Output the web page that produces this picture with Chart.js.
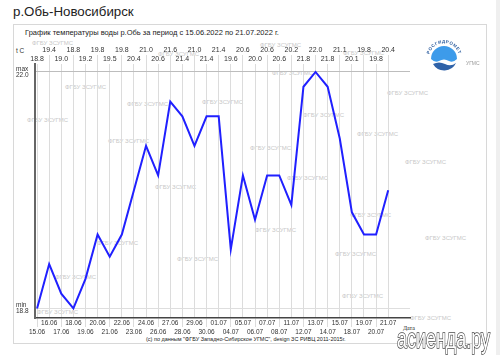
<!DOCTYPE html>
<html><head><meta charset="utf-8">
<script src="https://cdn.jsdelivr.net/npm/chart.js@4"></script>
<style>
html,body{margin:0;padding:0;width:500px;height:355px;overflow:hidden;background:#fff;font-family:"Liberation Sans",Arial,sans-serif;}
#title{position:absolute;left:13px;top:3px;font-size:13.3px;color:#222;line-height:18px;white-space:nowrap;}
#box{position:absolute;left:13px;top:24px;width:474px;height:320px;border:1px solid #d8d8d8;box-sizing:border-box;}
#edge{position:absolute;left:496px;top:0;width:4px;height:355px;background:#efefef;}
#caption{position:absolute;left:25px;top:28px;font-size:7.5px;line-height:10px;color:#222;white-space:nowrap;}
#tc{position:absolute;left:16px;top:46px;font-size:6.5px;line-height:9px;color:#333;}
#footer{position:absolute;left:146px;top:336px;font-size:5.5px;line-height:7px;color:#222;white-space:nowrap;}
#data{position:absolute;left:403px;top:325px;font-size:6px;line-height:7px;color:#222;font-family:"Liberation Serif",serif;}
.wm{position:absolute;font-size:6px;line-height:7px;color:#c8c8c8;white-space:nowrap;z-index:1;}
#c{position:absolute;left:0;top:0;z-index:2;}
#logo{position:absolute;left:420px;top:34px;z-index:3;}
#asi{position:absolute;left:390px;top:318px;z-index:5;}
</style></head>
<body>
<div id="title">р.Обь-Новосибирск</div>
<div id="box"></div>
<div id="edge"></div>
<div id="caption">График температуры воды р.Обь за период с 15.06.2022 по 21.07.2022 г.</div>
<div id="tc">t C</div>
<div id="footer">(c) по данным "ФГБУ Западно-Сибирское УГМС", design ЗС РИВЦ 2011-2015г.</div>
<div id="data">Дата</div>
<div id="wms"></div>
<canvas id="c" width="500" height="355"></canvas>
<svg id="logo" width="64" height="42" viewBox="0 0 64 42">
 <defs><path id="arc" d="M9,24 A15,15 0 0 1 39,24"/></defs>
 <text font-size="4.4" font-weight="bold" fill="#2b5c9e" letter-spacing="0.5" font-family="Liberation Sans, Arial"><textPath href="#arc" startOffset="50%" text-anchor="middle">РОСГИДРОМЕТ</textPath></text>
 <path d="M11,25 A13,13 0 0 1 37,25 Q33,29 29,27 Q24,24 19,27 Q15,29 11,25Z" fill="#3d9bea"/>
 <path d="M13,30 Q19,27 25,30 Q31,33 36,29 A13,13 0 0 1 13,30Z" fill="#2f62a8"/>
 <text x="46" y="31" font-size="5" fill="#9a9a9a" font-family="Liberation Sans, Arial">УГМС</text>
</svg>
<svg id="asi" width="110" height="37">
 <text x="7" y="30" font-size="27" font-family="Liberation Sans, Arial" textLength="93" lengthAdjust="spacingAndGlyphs" fill="#fff" stroke="#4a4a4a" stroke-width="1.6" paint-order="stroke">асиенда.ру</text>
</svg>
<script>
const dates = ['15.06','16.06','17.06','18.06','19.06','20.06','21.06','22.06','23.06','24.06','26.06','27.06','28.06','29.06','30.06','01.07','04.07','05.07','06.07','07.07','08.07','11.07','12.07','13.07','14.07','15.07','18.07','19.07','20.07','21.07'];
const temps = [18.8,19.4,19.0,18.8,19.2,19.8,19.5,19.8,20.4,21.0,20.6,21.6,21.4,21.0,21.4,21.4,19.6,20.6,20.0,20.6,20.6,20.2,21.8,22.0,21.8,21.1,20.1,19.8,19.8,20.4];
const yTicks = [18.8, 22.0];
const yTickNames = ['min', 'max'];
const wmText = 'ФГБУ ЗСУГМС';
const wmSpots = [[32,40],[158,51],[260,42],[343,50],[65,84],[27,117],[127,101],[272,70],[202,99],[108,138],[155,184],[250,145],[255,227],[97,240],[177,256],[287,175],[55,274],[37,309],[303,112],[387,90],[357,131],[405,159],[350,212],[425,235],[335,251],[342,293],[410,315]];

const wmBox = document.getElementById('wms');
wmSpots.forEach(p => { const d = document.createElement('div'); d.className = 'wm'; d.style.left = p[0] + 'px'; d.style.top = p[1] + 'px'; d.textContent = wmText; wmBox.appendChild(d); });

const FAM = '"Liberation Sans", Arial, sans-serif';
const points = temps.map((t, i) => ({x: i, y: t}));
const setIdxTicks = s => { s.ticks = dates.map((d, i) => ({value: i})); };
const XMIN = -0.17, XMAX = 30.8;

new Chart(document.getElementById('c'), {
  type: 'line',
  data: { datasets: [{ data: points, borderColor: '#2020ff', borderWidth: 2, pointRadius: 0, tension: 0, fill: false, xAxisID: 'x', yAxisID: 'y' }] },
  options: {
    responsive: false, animation: false, events: [],
    layout: { padding: { left: 16, right: 90, top: 0, bottom: 0 } },
    plugins: { legend: { display: false }, tooltip: { enabled: false } },
    scales: {
      x: {
        type: 'linear', position: 'bottom', min: XMIN, max: XMAX,
        afterBuildTicks: setIdxTicks, afterFit: s => { s.height = 37; },
        grid: { color: '#dcdcdc', lineWidth: 1, drawTicks: true, tickLength: 9,
                tickColor: c => (c.index % 2 === 0 ? '#dcdcdc' : 'rgba(0,0,0,0)') },
        border: { display: true, color: '#444', width: 1.5 },
        ticks: { padding: -9, autoSkip: false, minRotation: 0, maxRotation: 0, color: '#333',
                 font: { size: 6.5, family: FAM, lineHeight: 1.45 },
                 callback: (v, i) => (i % 2 ? [dates[i]] : ['', dates[i]]) }
      },
      x2: {
        type: 'linear', position: 'top', min: XMIN, max: XMAX,
        afterBuildTicks: setIdxTicks, afterFit: s => { s.height = 64; },
        grid: { drawOnChartArea: false, drawTicks: true, tickLength: 9,
                tickColor: c => (c.index % 2 ? '#dcdcdc' : 'rgba(0,0,0,0)') },
        border: { display: false },
        ticks: { padding: -9, autoSkip: false, minRotation: 0, maxRotation: 0, color: '#333',
                 font: { size: 7, family: FAM, lineHeight: 1.3 },
                 callback: (v, i) => (i % 2 ? [temps[i].toFixed(1), ''] : [temps[i].toFixed(1)]) }
      },
      y: {
        type: 'linear', position: 'left', min: 18.67, max: 22.108,
        afterBuildTicks: s => { s.ticks = yTicks.map(v => ({value: v})); },
        afterFit: s => { s.width = 19; },
        grid: { drawTicks: false, color: c => (c.tick && c.tick.value === 22 ? '#bdbdbd' : '#dedede') },
        border: { color: '#666', width: 2 },
        ticks: { crossAlign: 'far', padding: 0, autoSkip: false, color: '#333',
                 font: { size: 6.5, family: FAM, lineHeight: 1 },
                 callback: (v, i) => [yTickNames[i], v.toFixed(1)] }
      }
    }
  }
});
</script>
</body></html>
